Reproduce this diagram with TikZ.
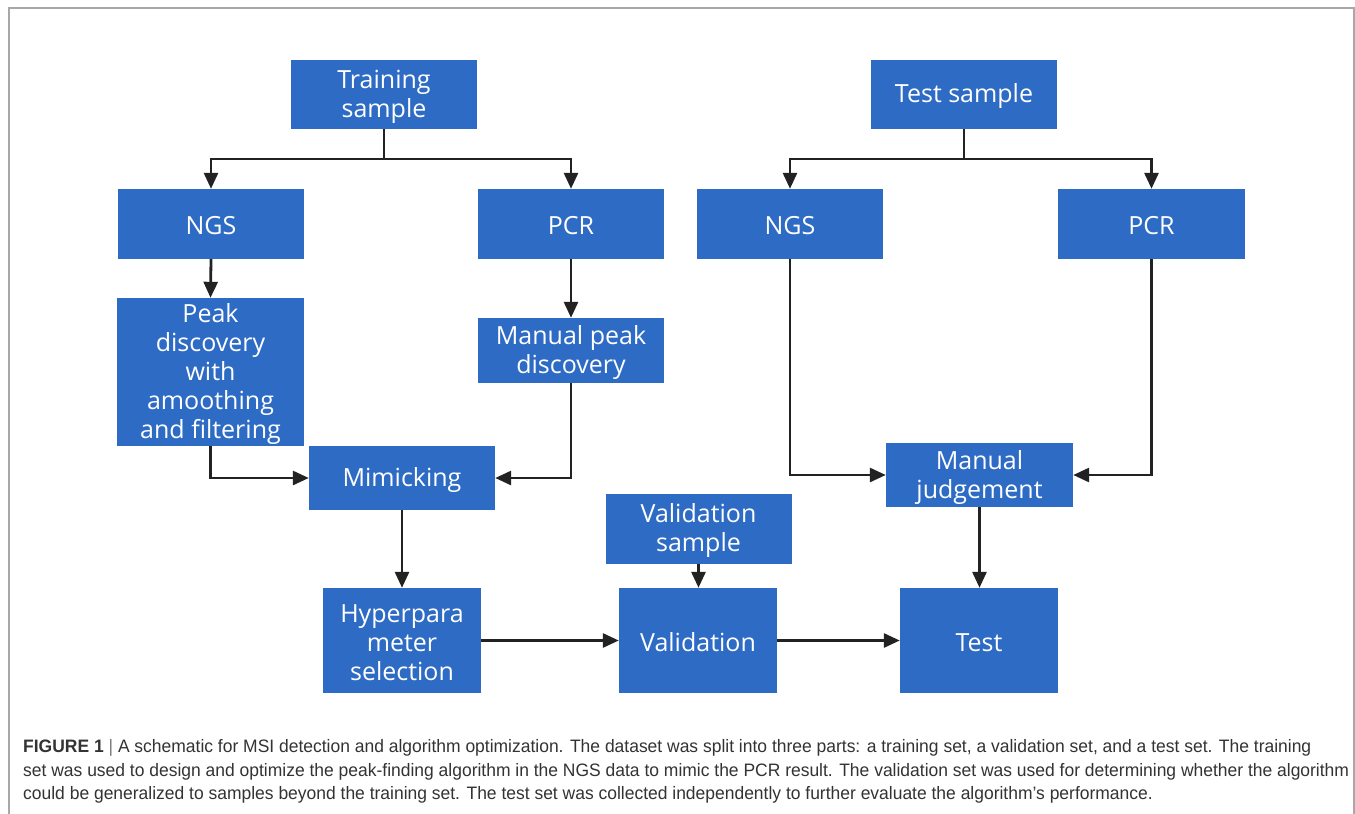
\documentclass[tikz,border=0pt]{standalone}
\usepackage{fontspec}
\usepackage{graphicx}
\usetikzlibrary{arrows.meta}
\newfontfamily\boxfont{Open Sans}
\newfontfamily\capfont{Liberation Sans}
\definecolor{boxblue}{HTML}{2D6BC5}
\definecolor{linegray}{HTML}{222222}
\definecolor{framegray}{HTML}{A8A8A8}
\definecolor{captext}{HTML}{333333}
\definecolor{capbar}{HTML}{777777}
\newsavebox\capbox
\begin{document}
\sbox\capbox{\capfont\fontsize{18}{22}\selectfont set was used to design and optimize the peak-finding algorithm in the NGS data to mimic the PCR result. The validation set was used for determining whether the algorithm}%
\pgfmathsetmacro\capscale{1326/\the\wd\capbox}%
\begin{tikzpicture}[x=1pt,y=-1pt,
  blk/.style={fill=boxblue, draw=none, inner sep=0pt},
  txt/.style={text=white, font=\boxfont\fontsize{25}{29}\selectfont,
    align=center, inner sep=0pt, yshift=-2pt},
  conn/.style={draw=linegray, line width=2.8pt, -{Triangle[length=16pt,width=14pt]}},
  capline/.style={anchor=base west, inner sep=0pt, text=captext,
    font=\capfont\fontsize{18}{22}\selectfont}]
\fill[white] (0,0) rectangle (1355,814);
\useasboundingbox (0,0) rectangle (1355,814);
\draw[framegray, line width=1.5pt] (9,820) -- (9,8) -- (1354,8) -- (1354,820);

% boxes
\node[blk, minimum width=186pt, minimum height=69pt, label={[txt]center:{Training\\sample}}] (ts) at (384,94.5) {};
\node[blk, minimum width=186pt, minimum height=69pt, label={[txt]center:{Test sample}}] (tes) at (964,94.5) {};
\node[blk, minimum width=186pt, minimum height=70pt, label={[txt]center:{NGS}}] (ngsa) at (211,224) {};
\node[blk, minimum width=186pt, minimum height=70pt, label={[txt]center:{PCR}}] (pcra) at (571,224) {};
\node[blk, minimum width=186pt, minimum height=70pt, label={[txt]center:{NGS}}] (ngsb) at (790,224) {};
\node[blk, minimum width=187pt, minimum height=70pt, label={[txt]center:{PCR}}] (pcrb) at (1151.5,224) {};
\node[blk, minimum width=187pt, minimum height=148pt, label={[txt]center:{Peak\\discovery\\with\\amoothing\\and filtering}}] (peak) at (210.5,372) {};
\node[blk, minimum width=186pt, minimum height=65pt, label={[txt]center:{Manual peak\\discovery}}] (mpd) at (571,350.5) {};
\node[blk, minimum width=186pt, minimum height=64pt, label={[txt]center:{Mimicking}}] (mim) at (402,478) {};
\node[blk, minimum width=187pt, minimum height=64pt, label={[txt]center:{Manual\\judgement}}] (mj) at (979.5,475) {};
\node[blk, minimum width=186pt, minimum height=70pt, label={[txt]center:{Validation\\sample}}] (vs) at (698.5,528.5) {};
\node[blk, minimum width=158pt, minimum height=105pt, label={[txt]center:{Hyperpara\\meter\\selection}}] (hyp) at (402,640.5) {};
\node[blk, minimum width=158pt, minimum height=105pt, label={[txt]center:{Validation}}] (val) at (698,640.5) {};
\node[blk, minimum width=158pt, minimum height=105pt, label={[txt]center:{Test}}] (test) at (979,640.5) {};

% branch points
\coordinate (tsb) at (384,159);
\coordinate (tesb) at (964,159);

% connectors
\draw[conn] (ts.south) -- (tsb) -| (ngsa.north);
\draw[conn] (tsb) -| (pcra.north);
\draw[conn] (tes.south) -- (tesb) -| (ngsb.north);
\draw[conn] (tesb) -| (pcrb.north);
\draw[conn] (ngsa.south) -- (peak.north);
\draw[conn] (pcra.south) -- (mpd.north);
\draw[conn] (peak.south) |- (mim.west);
\draw[conn] (mpd.south) |- (mim.east);
\draw[conn] (ngsb.south) |- (mj.west);
\draw[conn] (pcrb.south) |- (mj.east);
\draw[conn] (mim.south) -- (hyp.north);
\draw[conn] (mj.south) -- (mj.south |- test.north);
\draw[conn] (vs.south) -- (vs.south |- val.north);
\draw[conn] (hyp.east) -- (val.west);
\draw[conn] (val.east) -- (test.west);

% caption
\node[capline] (cap1) at (23,752) {\scalebox{\capscale}[1]{\textbf{FIGURE 1} {\color{capbar}|} A schematic for MSI detection and algorithm optimization. The dataset was split into three parts: a training set, a validation set, and a test set. The training}};
\node[capline] (cap2) at (23,776) {\scalebox{\capscale}[1]{set was used to design and optimize the peak-finding algorithm in the NGS data to mimic the PCR result. The validation set was used for determining whether the algorithm}};
\node[capline] (cap3) at (23,799) {\scalebox{\capscale}[1]{could be generalized to samples beyond the training set. The test set was collected independently to further evaluate the algorithm’s performance.}};
\end{tikzpicture}
\end{document}
